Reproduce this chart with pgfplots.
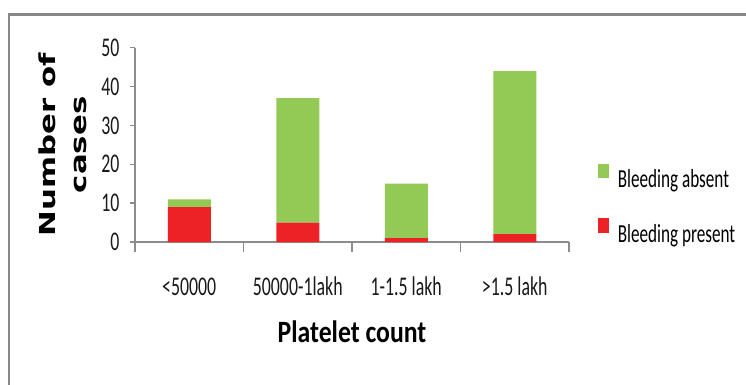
\documentclass[border=0pt]{standalone}
\usepackage{pgfplots}
\pgfplotsset{compat=1.18}
\usepackage{fontspec}
\setmainfont{Carlito}[FakeStretch=0.66]
\newfontfamily\titlefont{Carlito}[FakeStretch=0.83]
\newfontfamily\labelfont{DejaVu Sans}
\definecolor{absentgreen}{HTML}{93C955}
\definecolor{presentred}{HTML}{EC2226}
\definecolor{axisgray}{HTML}{8C8C8C}
\definecolor{framegray}{HTML}{878787}

\begin{document}
\begin{tikzpicture}[x=1pt,y=1pt]
\useasboundingbox (0,0) rectangle (746,384);
% outer frame (top and left edges)
\draw[framegray, line width=2.5pt] (9,-5) -- (9,369.5) -- (750,369.5);
\begin{axis}[
  at={(135pt,142pt)}, anchor=south west,
  scale only axis, width=434pt, height=194.3pt,
  ybar stacked, bar width=43pt,
  xmin=-0.5, xmax=3.5, ymin=0, ymax=50,
  axis lines=left,
  axis line style={axisgray, line width=1.3pt, -},
  tick align=outside,
  major tick length=5pt, minor tick length=10pt,
  tick style={axisgray, line width=1.3pt},
  major x tick style={draw=none},
  xtick={0,1,2,3},
  minor xtick={-0.5,0.5,1.5,2.5,3.5},
  xticklabels={{<50000},{50000-1lakh},{1-1.5 lakh},{>1.5 lakh}},
  ytick={0,10,20,30,40,50},
  /pgf/number format/assume math mode=true,
  tick label style={font=\fontsize{27}{32}\selectfont, text=black!90},
  xticklabel style={anchor=base, yshift=-48pt},
  yticklabel style={anchor=east, xshift=-7pt},
  xlabel={Platelet count},
  xlabel style={font=\titlefont\bfseries\fontsize{31}{36}\selectfont,
    at={(axis description cs:0.5,-0.5147)}, anchor=base},
  ylabel={\scalebox{1}[0.715]{\begin{tabular}{@{}c@{}}Number of\\cases\end{tabular}}},
  ylabel style={font=\labelfont\bfseries\fontsize{30.8}{44}\selectfont,
    at={(axis description cs:-0.162,0.5)}, anchor=center},
  legend image code/.code={\fill[#1] (0pt,1.5pt) rectangle (11pt,16pt);},
  reverse legend,
  legend cell align=left,
  legend style={at={(axis description cs:1.067,0.196)}, anchor=west,
    draw=none, fill=none, inner sep=0pt,
    font=\fontsize{26}{30}\selectfont,
    row sep=29pt, column sep=8.5pt, nodes={inner sep=0pt}},
]
\addplot[fill=presentred, draw=none] coordinates {(0,9) (1,5) (2,1) (3,2)};
\addlegendentry{Bleeding present}
\addplot[fill=absentgreen, draw=none] coordinates {(0,2) (1,32) (2,14) (3,42)};
\addlegendentry{Bleeding absent}
\end{axis}
\end{tikzpicture}
\end{document}
